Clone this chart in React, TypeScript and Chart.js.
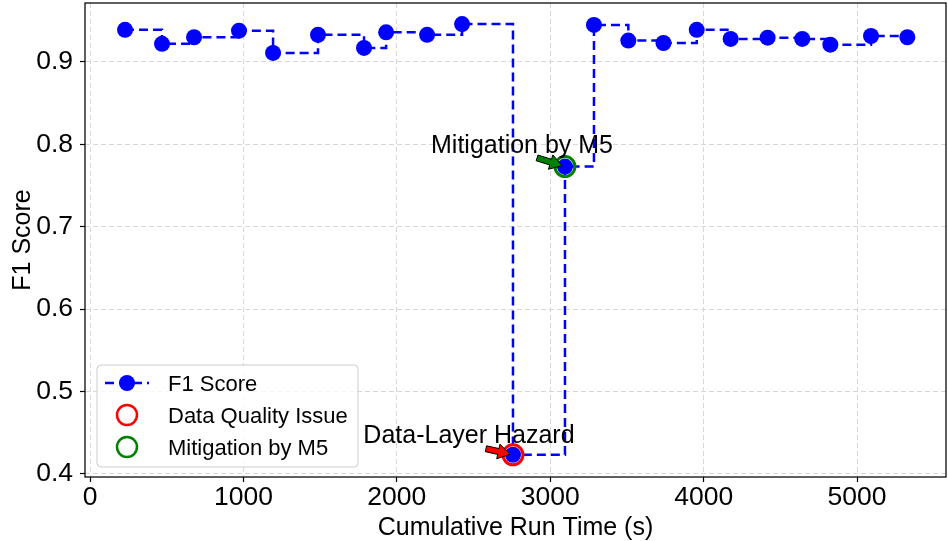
import React, { useEffect, useRef } from "react";
import { Chart, registerables } from "chart.js";

Chart.register(...registerables);

const runTimes = [228, 469, 678, 971, 1193, 1486, 1786, 1930, 2197, 2425, 2757, 3096, 3285, 3509, 3738, 3955, 4176, 4417, 4643, 4826, 5091, 5328];
const f1Scores = [0.939, 0.922, 0.93, 0.938, 0.911, 0.933, 0.917, 0.936, 0.933, 0.946, 0.423, 0.773, 0.945, 0.926, 0.923, 0.939, 0.928, 0.9295, 0.928, 0.921, 0.9315, 0.93];
const hazardIndex = 10;
const mitigationIndex = 11;
const xTicks = [0, 1000, 2000, 3000, 4000, 5000];
const yTicks = [0.4, 0.5, 0.6, 0.7, 0.8, 0.9];
const legendLabels = ["F1 Score", "Data Quality Issue", "Mitigation by M5"];
const annotationTexts = ["Data-Layer Hazard", "Mitigation by M5"];
const annotationTextX = [2470, 2816];
const annotationTextY = [0.4373, 0.7896];
const arrowFromX = [2581, 2914];
const arrowFromY = [0.4303, 0.7835];
const annotationIndex = [hazardIndex, mitigationIndex];
const annotationColors = ["#ff0000", "#008000"];

const FONT = "'Liberation Sans', Arial, sans-serif";

function drawArrow(ctx: CanvasRenderingContext2D, x0: number, y0: number, x1: number, y1: number, color: string) {
  const dx = x1 - x0, dy = y1 - y0;
  const len = Math.hypot(dx, dy);
  const ux = dx / len, uy = dy / len;
  const nx = -uy, ny = ux;
  const w = 6, hw = 15, hl = 12;
  const bx = x1 - ux * hl, by = y1 - uy * hl;
  ctx.save();
  ctx.beginPath();
  ctx.moveTo(x0 + nx * w / 2, y0 + ny * w / 2);
  ctx.lineTo(bx + nx * w / 2, by + ny * w / 2);
  ctx.lineTo(bx + nx * hw / 2, by + ny * hw / 2);
  ctx.lineTo(x1, y1);
  ctx.lineTo(bx - nx * hw / 2, by - ny * hw / 2);
  ctx.lineTo(bx - nx * w / 2, by - ny * w / 2);
  ctx.lineTo(x0 - nx * w / 2, y0 - ny * w / 2);
  ctx.closePath();
  ctx.fillStyle = color;
  ctx.fill();
  ctx.lineWidth = 1;
  ctx.strokeStyle = "#000";
  ctx.lineJoin = "miter";
  ctx.stroke();
  ctx.restore();
}

const overlay = {
  id: "overlay",
  afterDatasetsDraw(chart: any) {
    const ctx: CanvasRenderingContext2D = chart.ctx;
    const xs = chart.scales.x, ys = chart.scales.y;
    for (let i = 0; i < annotationTexts.length; i++) {
      const px = xs.getPixelForValue(runTimes[annotationIndex[i]]);
      const py = ys.getPixelForValue(f1Scores[annotationIndex[i]]);
      const tx = xs.getPixelForValue(arrowFromX[i]);
      const ty = ys.getPixelForValue(arrowFromY[i]);
      const d = Math.hypot(px - tx, py - ty);
      const shrink = 3;
      drawArrow(ctx, tx, ty, px - (px - tx) / d * shrink, py - (py - ty) / d * shrink, annotationColors[i]);
      ctx.save();
      ctx.font = `25px ${FONT}`;
      ctx.fillStyle = "#000";
      ctx.textAlign = "center";
      ctx.textBaseline = "alphabetic";
      ctx.fillText(annotationTexts[i], xs.getPixelForValue(annotationTextX[i]), ys.getPixelForValue(annotationTextY[i]));
      ctx.restore();
    }
  },
  afterDraw(chart: any) {
    const ctx: CanvasRenderingContext2D = chart.ctx;
    const a = chart.chartArea;
    ctx.save();
    ctx.strokeStyle = "#000";
    ctx.lineWidth = 1.25;
    ctx.setLineDash([]);
    ctx.strokeRect(a.left, a.top, a.right - a.left, a.bottom - a.top);
    ctx.fillStyle = "#000";
    ctx.font = `25px ${FONT}`;
    ctx.textAlign = "center";
    ctx.textBaseline = "alphabetic";
    ctx.fillText("Cumulative Run Time (s)", (a.left + a.right) / 2, 535);
    ctx.save();
    ctx.translate(30, (a.top + a.bottom) / 2);
    ctx.rotate(-Math.PI / 2);
    ctx.fillText("F1 Score", 0, 0);
    ctx.restore();
    const lx = 97, ly = 365, lw = 261, lh = 102, r = 4;
    ctx.beginPath();
    ctx.moveTo(lx + r, ly);
    ctx.arcTo(lx + lw, ly, lx + lw, ly + lh, r);
    ctx.arcTo(lx + lw, ly + lh, lx, ly + lh, r);
    ctx.arcTo(lx, ly + lh, lx, ly, r);
    ctx.arcTo(lx, ly, lx + lw, ly, r);
    ctx.closePath();
    ctx.fillStyle = "rgba(255,255,255,0.8)";
    ctx.fill();
    ctx.strokeStyle = "#cccccc";
    ctx.lineWidth = 1;
    ctx.stroke();
    const rows = [383, 415, 447];
    const hx = 127;
    ctx.strokeStyle = "#0000ff";
    ctx.lineWidth = 2.5;
    ctx.setLineDash([9, 5]);
    ctx.beginPath();
    ctx.moveTo(105, rows[0]);
    ctx.lineTo(149, rows[0]);
    ctx.stroke();
    ctx.setLineDash([]);
    ctx.fillStyle = "#0000ff";
    ctx.beginPath();
    ctx.arc(hx, rows[0], 8, 0, Math.PI * 2);
    ctx.fill();
    ctx.lineWidth = 2.5;
    ctx.strokeStyle = "#ff0000";
    ctx.beginPath();
    ctx.arc(hx, rows[1], 10, 0, Math.PI * 2);
    ctx.stroke();
    ctx.strokeStyle = "#008000";
    ctx.beginPath();
    ctx.arc(hx, rows[2], 10, 0, Math.PI * 2);
    ctx.stroke();
    ctx.fillStyle = "#000";
    ctx.font = `22px ${FONT}`;
    ctx.textAlign = "left";
    ctx.textBaseline = "alphabetic";
    for (let i = 0; i < legendLabels.length; i++) {
      ctx.fillText(legendLabels[i], 168, rows[i] + 7.5);
    }
    ctx.restore();
  },
};

export default function App() {
  const ref = useRef<HTMLCanvasElement>(null);
  useEffect(() => {
    document.body.style.margin = "0";
    const ctx = ref.current!.getContext("2d")!;
    const lineData = runTimes.map((x, i) => ({ x, y: f1Scores[i] }));
    const gridOpts: any = {
      color: "#d4d4d4",
      lineWidth: 0.9,
      tickColor: "#000",
      tickLength: 5,
      tickWidth: 1.2,
      tickBorderDash: [],
    };
    const chart = new Chart(ctx, {
      type: "line",
      data: {
        datasets: [
          {
            label: "Data Quality Issue",
            data: [{ x: runTimes[hazardIndex], y: f1Scores[hazardIndex] }],
            showLine: false,
            pointRadius: 10,
            pointHoverRadius: 10,
            pointBackgroundColor: "rgba(0,0,0,0)",
            pointBorderColor: "#ff0000",
            pointBorderWidth: 3,
            order: 0,
          } as any,
          {
            label: "Mitigation by M5",
            data: [{ x: runTimes[mitigationIndex], y: f1Scores[mitigationIndex] }],
            showLine: false,
            pointRadius: 10,
            pointHoverRadius: 10,
            pointBackgroundColor: "rgba(0,0,0,0)",
            pointBorderColor: "#008000",
            pointBorderWidth: 3,
            order: 0,
          } as any,
          {
            label: "F1 Score",
            data: lineData,
            stepped: "before",
            borderColor: "#0000ff",
            borderWidth: 2.5,
            borderDash: [9, 5],
            pointRadius: 8,
            pointHoverRadius: 8,
            pointBackgroundColor: "#0000ff",
            pointBorderWidth: 0,
            fill: false,
            order: 1,
          } as any,
        ],
      },
      options: {
        animation: false,
        responsive: false,
        maintainAspectRatio: false,
        events: [],
        layout: { autoPadding: false, padding: { top: 3, right: 2, left: 0, bottom: 0 } } as any,
        plugins: { legend: { display: false }, tooltip: { enabled: false } },
        scales: {
          x: {
            type: "linear",
            min: -33,
            max: 5580,
            afterBuildTicks: (s: any) => { s.ticks = xTicks.map((v) => ({ value: v })); },
            afterFit: (s: any) => { s.height = 64; s.paddingLeft = 0; s.paddingRight = 0; },
            ticks: {
              callback: (v: any) => String(v),
              font: { family: FONT, size: 26.5 },
              color: "#000",
              padding: 0,
              maxRotation: 0,
            },
            grid: gridOpts,
            border: { display: false, dash: [5, 3] } as any,
          },
          y: {
            type: "linear",
            min: 0.396,
            max: 0.9716,
            afterBuildTicks: (s: any) => { s.ticks = yTicks.map((v) => ({ value: v })); },
            afterFit: (s: any) => { s.width = 85; s.paddingTop = 0; s.paddingBottom = 0; },
            ticks: {
              callback: (v: any) => Number(v).toFixed(1),
              font: { family: FONT, size: 26.5 },
              color: "#000",
              padding: 7,
            },
            grid: gridOpts,
            border: { display: false, dash: [5, 3] } as any,
          },
        },
      },
      plugins: [overlay],
    });
    return () => chart.destroy();
  }, []);
  return (
    <div style={{ width: 948, height: 541 }}>
      <canvas ref={ref} width={948} height={541} style={{ display: "block" }} />
    </div>
  );
}
